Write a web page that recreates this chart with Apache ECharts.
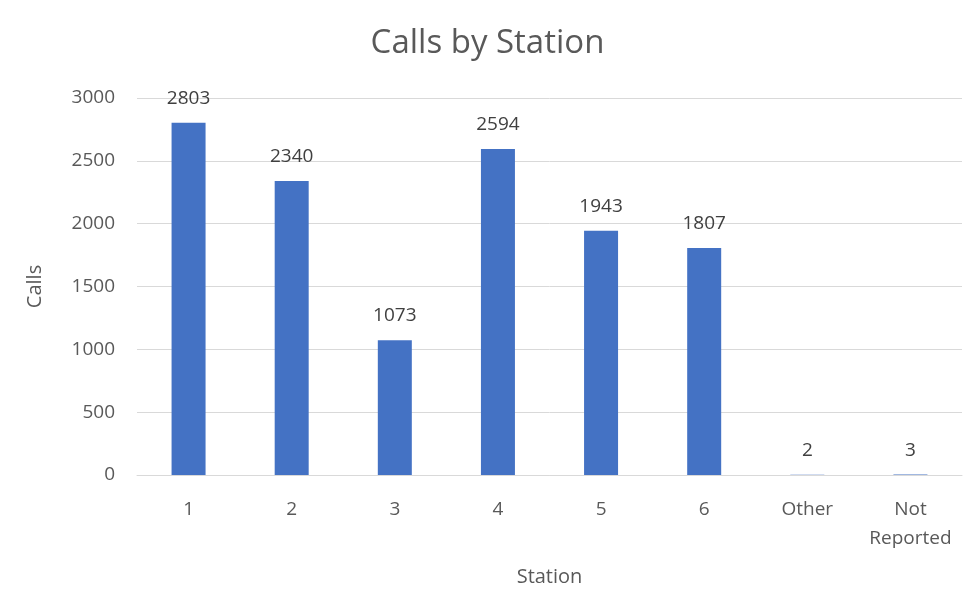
<!DOCTYPE html>
<html>
<head>
<meta charset="utf-8">
<script src="https://cdn.jsdelivr.net/npm/echarts@6/dist/echarts.min.js"></script>
<style>
  html, body { margin: 0; padding: 0; background: #fff; }
  #chart { width: 975px; height: 611px; }
</style>
</head>
<body>
<div id="chart"></div>
<script>
// 数据
var stations = ["1", "2", "3", "4", "5", "6", "Other", "Not\nReported"];
var calls = [2803, 2340, 1073, 2594, 1943, 1807, 2, 3];
var yTicks = [0, 500, 1000, 1500, 2000, 2500, 3000];

var myChart = echarts.init(document.getElementById("chart"));
var font = "'Open Sans', 'Noto Sans', sans-serif";

var option = {
  backgroundColor: "#ffffff",
  textStyle: { fontFamily: font },
  title: {
    text: "Calls by Station",
    left: "center",
    top: 22,
    textStyle: { fontSize: 33, fontWeight: "normal", color: "#595959", fontFamily: font },
  },
  grid: { left: 137, right: 13, top: 98, bottom: 136 },
  xAxis: {
    type: "category",
    data: stations,
    name: "Station",
    nameLocation: "middle",
    nameGap: 92,
    nameTextStyle: { fontSize: 20, color: "#595959" },
    axisLine: { lineStyle: { color: "#d9d9d9" } },
    axisTick: { show: false },
    axisLabel: { interval: 0, fontSize: 19, color: "#595959", margin: 20, lineHeight: 29 },
  },
  yAxis: {
    type: "value",
    min: yTicks[0],
    max: yTicks[yTicks.length - 1],
    interval: 500,
    name: "Calls",
    nameLocation: "middle",
    nameGap: 92,
    nameTextStyle: { fontSize: 20, color: "#595959" },
    axisLine: { show: false },
    axisTick: { show: false },
    axisLabel: { fontSize: 19, color: "#595959", margin: 22, formatter: function (v) { return String(v); } },
    splitLine: { lineStyle: { color: "#d9d9d9" } },
  },
  series: [
    {
      name: "Calls",
      type: "bar",
      data: calls,
      barWidth: 34,
      itemStyle: { color: "#4472C4" },
      label: {
        show: true,
        position: "top",
        distance: 15,
        fontSize: 19,
        color: "#404040",
      },
    },
  ],
};

myChart.setOption(option);
</script>
</body>
</html>
